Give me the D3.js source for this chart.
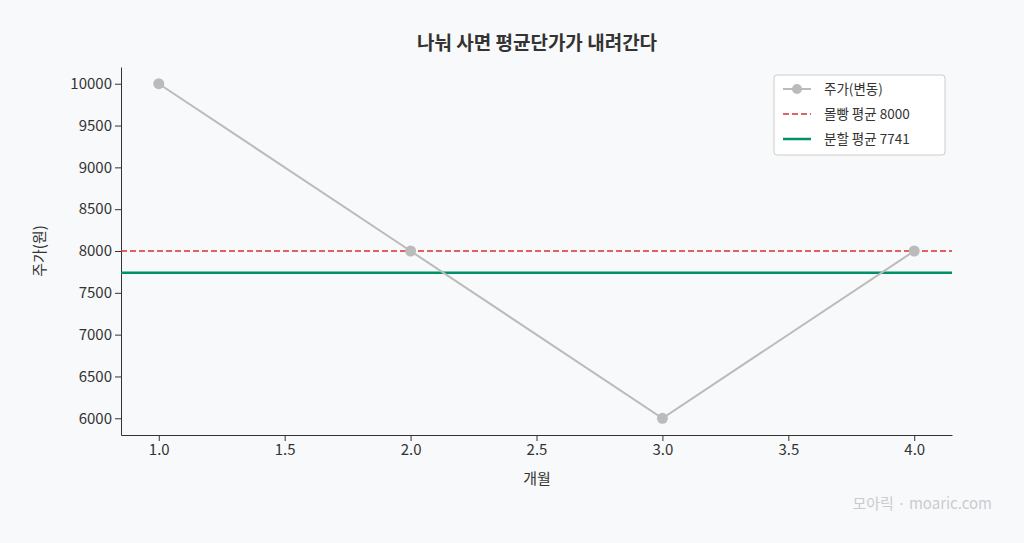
<!DOCTYPE html>
<html><head><meta charset="utf-8">
<script src="https://cdn.jsdelivr.net/npm/d3@7"></script>
<style>body{margin:0;background:#f8f9fa;font-family:"Noto Sans CJK KR","Noto Sans",sans-serif;}
svg text{font-family:"Noto Sans CJK KR","Noto Sans",sans-serif !important;}</style>
</head><body>
<svg id="c" width="1024" height="543"></svg>
<script>
// 데이터
const months = [1, 2, 3, 4];
const prices = [10000, 8000, 6000, 8000];
const lumpAvg = 8000;
const splitAvg = 7741;
const yTicks = [6000, 6500, 7000, 7500, 8000, 8500, 9000, 9500, 10000];
const xTicks = [1.0, 1.5, 2.0, 2.5, 3.0, 3.5, 4.0];

const svg = d3.select("#c");
svg.append("rect").attr("width", 1024).attr("height", 543).attr("fill", "#f8f9fa");
const m = {l: 121, r: 952, t: 67, b: 435};
const x = d3.scaleLinear().domain([0.85, 4.15]).range([m.l, m.r]);
const y = d3.scaleLinear().domain([5800, 10200]).range([m.b, m.t]);

const g = svg.append("g");
g.append("g").attr("transform", `translate(0,${m.b})`)
  .call(d3.axisBottom(x).tickValues(xTicks).tickFormat(d3.format(".1f")).tickSizeOuter(0));
g.append("g").attr("transform", `translate(${m.l},0)`)
  .call(d3.axisLeft(y).tickValues(yTicks).tickFormat(d => d).tickSizeOuter(0));
g.selectAll(".tick text").attr("font-size", 15).attr("fill", "#333");
g.selectAll(".domain, .tick line").attr("stroke", "#333");

svg.append("line").attr("x1", m.l).attr("x2", m.r).attr("y1", y(lumpAvg)).attr("y2", y(lumpAvg))
  .attr("stroke", "#d62f2f").attr("stroke-width", 1.6).attr("stroke-dasharray", "6,3");
svg.append("line").attr("x1", m.l).attr("x2", m.r).attr("y1", y(splitAvg)).attr("y2", y(splitAvg))
  .attr("stroke", "#00906a").attr("stroke-width", 2.5);

svg.append("path").datum(months.map((d, i) => [d, prices[i]]))
  .attr("d", d3.line().x(d => x(d[0])).y(d => y(d[1])))
  .attr("fill", "none").attr("stroke", "#bbbbbb").attr("stroke-width", 2);
svg.selectAll(".pt").data(months).enter().append("circle")
  .attr("cx", d => x(d)).attr("cy", (d, i) => y(prices[i])).attr("r", 5.5).attr("fill", "#bbbbbb");

svg.append("text").attr("x", 537).attr("y", 50).attr("text-anchor", "middle")
  .attr("font-size", 19).attr("font-weight", "bold").attr("fill", "#333").text("나눠 사면 평균단가가 내려간다");
svg.append("text").attr("x", 537).attr("y", 484).attr("text-anchor", "middle")
  .attr("font-size", 15).attr("fill", "#333").text("개월");
svg.append("text").attr("transform", "translate(45,251) rotate(-90)").attr("text-anchor", "middle")
  .attr("font-size", 15).attr("fill", "#333").text("주가(원)");
svg.append("text").attr("x", 992).attr("y", 509).attr("text-anchor", "end")
  .attr("font-size", 15).attr("fill", "#c8ccd0").text("모아릭 · moaric.com");

// 범례
const lg = svg.append("g").attr("transform", "translate(774,75)");
lg.append("rect").attr("width", 171).attr("height", 80).attr("rx", 3)
  .attr("fill", "#fff").attr("stroke", "#ccc");
const items = [
  {t: "주가(변동)", c: "#bbbbbb", w: 2, dash: null, dot: true},
  {t: "몰빵 평균 8000", c: "#d62f2f", w: 1.6, dash: "6,3"},
  {t: "분할 평균 7741", c: "#00906a", w: 2.5, dash: null}
];
items.forEach((it, i) => {
  const yy = 14 + i * 25;
  lg.append("line").attr("x1", 9).attr("x2", 37).attr("y1", yy).attr("y2", yy)
    .attr("stroke", it.c).attr("stroke-width", it.w).attr("stroke-dasharray", it.dash);
  if (it.dot) lg.append("circle").attr("cx", 23).attr("cy", yy).attr("r", 5).attr("fill", it.c);
  lg.append("text").attr("x", 50).attr("y", yy + 5).attr("font-size", 13.5).attr("fill", "#333").text(it.t);
});
</script>
</body></html>
